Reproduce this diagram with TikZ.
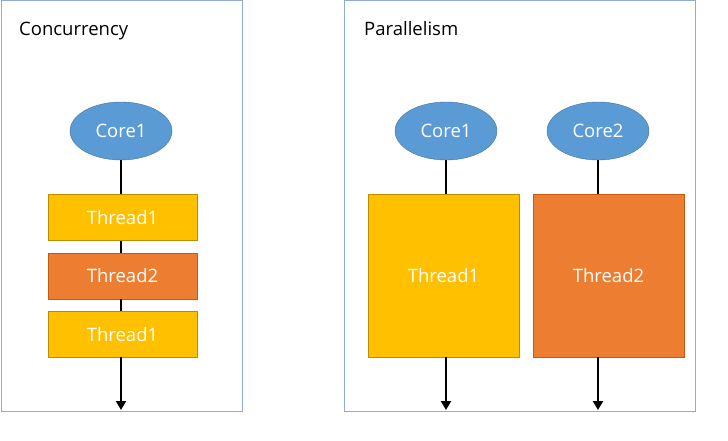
\documentclass[tikz,border=0pt]{standalone}
\usepackage{fontspec}
\setmainfont{Open Sans}
\usetikzlibrary{
  positioning,
  arrows.meta,
  shapes.geometric
}
\definecolor{coreblue}{HTML}{5B9BD5}
\definecolor{coreline}{HTML}{41719C}
\definecolor{threadyellow}{HTML}{FFC000}
\definecolor{yellowline}{HTML}{BC8C00}
\definecolor{threadorange}{HTML}{ED7D31}
\definecolor{orangeline}{HTML}{C55A11}
\definecolor{panelline}{HTML}{8FAADC}
\tikzset{
  x=1pt, y=-1pt,
  every node/.style={font=\fontsize{18.5}{22}\selectfont},
  panel/.style={draw=panelline, line width=1pt},
  title/.style={anchor=base west, inner sep=0pt, text=black},
  core/.style={ellipse, draw=coreline, fill=coreblue, text=white,
    minimum width=102pt, minimum height=58pt, inner sep=0pt},
  thread/.style={rectangle, draw=yellowline, fill=threadyellow, text=white,
    minimum width=149pt, minimum height=46pt, inner sep=0pt},
  other/.style={draw=orangeline, fill=threadorange},
  tall/.style={minimum width=151pt, minimum height=163pt},
  timeline/.style={line width=2.8pt, black},
  flow/.style={timeline, -{Triangle[length=9pt, width=10pt]}}
}

\begin{document}
\begin{tikzpicture}
    \useasboundingbox (0,0) rectangle (728,441);
    % concurrency: one core takes turns
    \draw[panel] (1,1) rectangle (242,411);
    \node[title] (ctitle) at (19,36) {Concurrency};
    \node[core] (c1) at (121,131) {Core1};
    \node[thread, below=34pt of c1, xshift=1.5pt] (ct1) {Thread1};
    \node[thread, other, below=12pt of ct1] (ct2) {Thread2};
    \node[thread, below=12pt of ct2] (ct3) {Thread1};
    \coordinate (cend) at (121,410);
    \draw[timeline] (c1.south) -- (c1.south |- ct1.north);
    \draw[timeline] (c1 |- ct1.south) -- (c1 |- ct2.north);
    \draw[timeline] (c1 |- ct2.south) -- (c1 |- ct3.north);
    \draw[flow] (c1 |- ct3.south) -- (cend);

    % parallelism: each core has its own thread
    \draw[panel] (344,1) rectangle (695,411);
    \node[title] (ptitle) at (364,36) {Parallelism};
    \node[core] (p1) at (446,131) {Core1};
    \node[core] (p2) at (598,131) {Core2};
    \node[thread, tall] (pt1) at (443.5,275.5) {Thread1};
    \node[thread, other, tall] (pt2) at (608.5,275.5) {Thread2};
    \coordinate (pend1) at (446,410);
    \coordinate (pend2) at (598,410);
    \draw[timeline] (p1.south) -- (p1.south |- pt1.north);
    \draw[timeline] (p2.south) -- (p2.south |- pt2.north);
    \draw[flow] (pend1 |- pt1.south) -- (pend1);
    \draw[flow] (pend2 |- pt2.south) -- (pend2);
\end{tikzpicture}
\end{document}
